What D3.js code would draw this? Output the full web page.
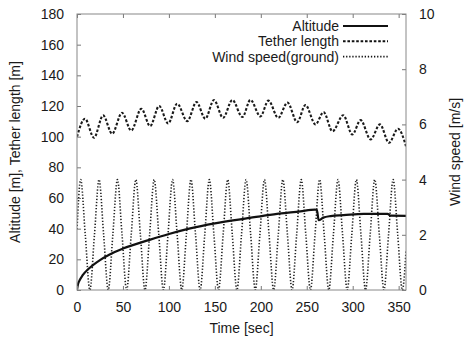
<!DOCTYPE html>
<html>
<head>
  <meta charset="UTF-8">
  <style>
    body {
      margin: 0;
      padding: 0;
      background: #fff;
      font-family: "Liberation Sans", Arial, sans-serif;
    }
    svg text {
      fill: #1a1a1a;
      font-size: 14px;
    }
  </style>
</head>
<body>
  <svg width="465" height="341"></svg>
  <script src="https://d3js.org/d3.v7.min.js"></script>

  <script>
    // altitude [m]
    const altTime = [0, 1, 3, 6, 13, 25, 35, 50, 79, 100, 122, 150, 188, 210, 243, 259, 261, 263, 268, 276, 290, 312, 338, 341, 358];
    const altitude = [0, 3.5, 6.5, 9.5, 14, 19.5, 23, 27, 32.7, 36.5, 40, 43.5, 47, 49, 51.3, 52.4, 52.3, 45.5, 47.2, 48.2, 48.8, 49.7, 49.7, 48.5, 48.4];

    // tether length [m], peaks and troughs
    const tetherTime = [0, 8.7, 18.5, 28.4, 38.2, 49, 59, 70, 79.6, 89.4, 99.2, 109, 120, 130, 139.6, 149, 159, 169, 180, 188.7,
      199.6, 208.3, 219, 229, 239.6, 248.6, 259.5, 268.3, 278, 289.7, 299.6, 308.6, 319.5, 329.7, 339.5, 349.3, 358];
    const tetherLength = [100, 111.7, 99.3, 113.9, 101.9, 115.6, 104, 118.2, 106.9, 120, 108.6, 121.5, 110.1, 122.6, 111.7, 123.9, 112.3, 123.9, 112.8, 124,
      113.2, 123.5, 112.3, 122.2, 109.5, 120.6, 108, 116, 103.5, 114, 101.4, 110.8, 98.2, 108, 96, 105.2, 93.8];

    // ground wind speed [m/s]
    const windTime = [0, 4, 9, 14, 19, 24, 29, 34, 39, 44, 49, 54, 59, 64, 69, 74, 79, 84, 89, 94, 99,
      104, 109, 114, 119, 124, 129, 134, 139, 144, 149, 154, 159, 164, 169, 174, 179, 184, 189, 194, 199,
      204, 209, 214, 219, 224, 229, 234, 239, 244, 249, 254, 259, 264, 269, 274, 279, 284, 289, 294, 299,
      304, 309, 314, 319, 324, 329, 334, 339, 344, 349, 354, 358];
    const windSpeed = [2.2,
      4, 2, 0, 2, 4, 2, 0, 2, 4, 2, 0, 2, 4, 2, 0, 2, 4, 2, 0, 2,
      4, 2, 0, 2, 4, 2, 0, 2, 4, 2, 0, 2, 4, 2, 0, 2, 4, 2, 0, 2,
      4, 2, 0, 2, 4, 2, 0, 2, 4, 2, 0, 2, 4, 2, 0, 2, 4, 2, 0, 2,
      4, 2, 0, 2, 4, 2, 0, 2,
      4, 2, 0,
      1.4];

    const xTicks = [0, 50, 100, 150, 200, 250, 300, 350];
    const yTicks = [0, 20, 40, 60, 80, 100, 120, 140, 160, 180];
    const y2Ticks = [0, 2, 4, 6, 8, 10];

    const legendNames = ["Altitude", "Tether length", "Wind speed(ground)"];
    const legendDash = [null, "2.6,1.8", "1.3,1.8"];
    const legendWidth = [2.2, 2.1, 1.6];

    const mLeft = 77, mRight = 406, mTop = 14, mBottom = 290;
    const svg = d3.select("svg");

    const x = d3.scaleLinear().domain([0, 358]).range([mLeft, mRight]);
    const y = d3.scaleLinear().domain([0, 180]).range([mBottom, mTop]);
    const y2 = d3.scaleLinear().domain([0, 10]).range([mBottom, mTop]);

    svg.append("clipPath").attr("id", "clip")
      .append("rect")
      .attr("x", mLeft).attr("y", mTop)
      .attr("width", mRight - mLeft).attr("height", mBottom - mTop);

    const plot = svg.append("g").attr("clip-path", "url(#clip)");

    const altLine = d3.line().x((d, i) => x(altTime[i])).y(d => y(d)).curve(d3.curveMonotoneX);
    const tetherLine = d3.line().x((d, i) => x(tetherTime[i])).y(d => y(d)).curve(d3.curveMonotoneX);
    const windLine = d3.line().x((d, i) => x(windTime[i])).y(d => y2(d)).curve(d3.curveMonotoneX);

    plot.append("path").attr("d", windLine(windSpeed))
      .attr("fill", "none").attr("stroke", "#222")
      .attr("stroke-width", legendWidth[2]).attr("stroke-dasharray", legendDash[2]);

    plot.append("path").attr("d", tetherLine(tetherLength))
      .attr("fill", "none").attr("stroke", "#1a1a1a")
      .attr("stroke-width", legendWidth[1]).attr("stroke-dasharray", legendDash[1]);

    plot.append("path").attr("d", altLine(altitude))
      .attr("fill", "none").attr("stroke", "#111")
      .attr("stroke-width", legendWidth[0]);

    // axes: inward ticks, like gnuplot
    svg.append("g").attr("transform", `translate(0,${mBottom})`)
      .call(d3.axisBottom(x).tickValues(xTicks).tickSizeInner(-4).tickSizeOuter(0).tickPadding(12))
      .call(g => g.select(".domain").remove());
    svg.append("g").attr("transform", `translate(0,${mTop})`)
      .call(d3.axisTop(x).tickValues(xTicks).tickSizeInner(-4).tickSizeOuter(0).tickFormat(""))
      .call(g => g.select(".domain").remove());
    svg.append("g").attr("transform", `translate(${mLeft},0)`)
      .call(d3.axisLeft(y).tickValues(yTicks).tickSizeInner(-4).tickSizeOuter(0).tickPadding(13))
      .call(g => g.select(".domain").remove());
    svg.append("g").attr("transform", `translate(${mRight},0)`)
      .call(d3.axisRight(y2).tickValues(y2Ticks).tickSizeInner(-4).tickSizeOuter(0).tickPadding(13))
      .call(g => g.select(".domain").remove());

    svg.selectAll(".tick line").attr("stroke", "#777");
    svg.selectAll(".tick text").attr("font-size", 14).attr("font-family", "Liberation Sans, Arial, sans-serif").attr("fill", "#1a1a1a");

    svg.append("rect")
      .attr("x", mLeft).attr("y", mTop)
      .attr("width", mRight - mLeft).attr("height", mBottom - mTop)
      .attr("fill", "none").attr("stroke", "#888").attr("stroke-width", 1);

    // axis titles
    svg.append("text").attr("x", (mLeft + mRight) / 2).attr("y", 333)
      .attr("text-anchor", "middle").attr("font-size", 14.5).text("Time [sec]");
    svg.append("text").attr("transform", `translate(20,${(mTop + mBottom) / 2}) rotate(-90)`)
      .attr("text-anchor", "middle").attr("font-size", 14.5).text("Altitude [m], Tether length [m]");
    svg.append("text").attr("transform", `translate(460,${(mTop + mBottom) / 2}) rotate(-90)`)
      .attr("text-anchor", "middle").attr("font-size", 14.5).text("Wind speed [m/s]");

    // legend
    const legend = svg.append("g");
    legendNames.forEach((name, i) => {
      const ly = 26 + i * 15.3;
      legend.append("text").attr("x", 339).attr("y", ly + 5)
        .attr("text-anchor", "end").text(name);
      const l = legend.append("line")
        .attr("x1", 343).attr("x2", 388).attr("y1", ly).attr("y2", ly)
        .attr("stroke", "#111").attr("stroke-width", legendWidth[i]);
      if (legendDash[i]) l.attr("stroke-dasharray", legendDash[i]);
    });
  </script>
</body>
</html>
